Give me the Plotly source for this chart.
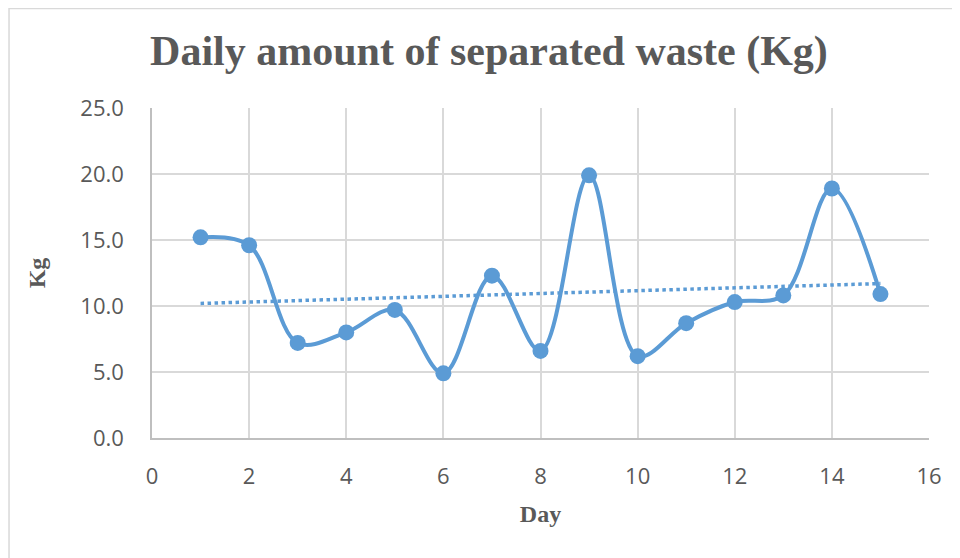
import numpy as np
import plotly.graph_objects as go

# Daily separated waste readings
days = [1, 2, 3, 4, 5, 6, 7, 8, 9, 10, 11, 12, 13, 14, 15]
waste_kg = [15.2, 14.6, 7.2, 8.0, 9.7, 4.9, 12.3, 6.6, 19.9, 6.2, 8.7, 10.3, 10.8, 18.9, 10.9]

x_ticks = [0, 2, 4, 6, 8, 10, 12, 14, 16]
y_ticks = [0, 5, 10, 15, 20, 25]
y_tick_labels = ["0.0", "5.0", "10.0", "15.0", "20.0", "25.0"]

blue = "#5B9BD5"
grey_text = "#595959"

# Linear trendline (least squares fit like Excel)
slope, intercept = np.polyfit(days, waste_kg, 1)
trend_x = [days[0], days[-1]]
trend_y = [slope * d + intercept for d in trend_x]

fig = go.Figure()

fig.add_trace(go.Scatter(
    x=trend_x, y=trend_y,
    mode="lines",
    line=dict(color=blue, width=3.5, dash="dot"),
    showlegend=False,
))

fig.add_trace(go.Scatter(
    x=days, y=waste_kg,
    mode="lines+markers",
    line=dict(color=blue, width=4, shape="spline", smoothing=1.0),
    marker=dict(color=blue, size=16),
    showlegend=False,
))

# the page body adds 8px, so margins are shifted to compensate
fig.update_layout(
    width=960, height=558,
    margin=dict(l=144, r=39, t=100, b=128),
    paper_bgcolor="white",
    plot_bgcolor="white",
    title=dict(
        text="<b>Daily amount of separated waste (Kg)</b>",
        x=0.501, xanchor="center",
        y=0.925, yanchor="middle",
        font=dict(family="Liberation Serif", size=42, color=grey_text),
    ),
    xaxis=dict(
        range=[0, 16], tickvals=x_ticks,
        showgrid=True, gridcolor="#D9D9D9", gridwidth=1.5,
        showline=True, linecolor="#BFBFBF", linewidth=1.5,
        zeroline=False, ticks="",
        tickfont=dict(family="Open Sans", size=22, color=grey_text),
        ticklabelstandoff=18,
        title=dict(text="<b>Day</b>", standoff=16,
                   font=dict(family="Liberation Serif", size=24, color=grey_text)),
    ),
    yaxis=dict(
        range=[0, 25], tickvals=y_ticks, ticktext=y_tick_labels,
        showgrid=True, gridcolor="#D9D9D9", gridwidth=1.5,
        showline=True, linecolor="#BFBFBF", linewidth=1.5,
        zeroline=False, ticks="",
        tickfont=dict(family="Open Sans", size=22, color=grey_text),
        ticklabelstandoff=22,
        title=dict(text="<b>Kg</b>", standoff=28,
                   font=dict(family="Liberation Serif", size=24, color=grey_text)),
    ),
    shapes=[dict(
        type="rect", xref="paper", yref="paper",
        x0=-0.184, x1=1.1, y0=-0.5, y1=1.3015,
        line=dict(color="#D9D9D9", width=1.5),
        fillcolor="rgba(0,0,0,0)", layer="below",
    )],
)

fig.write_html("out.html")
